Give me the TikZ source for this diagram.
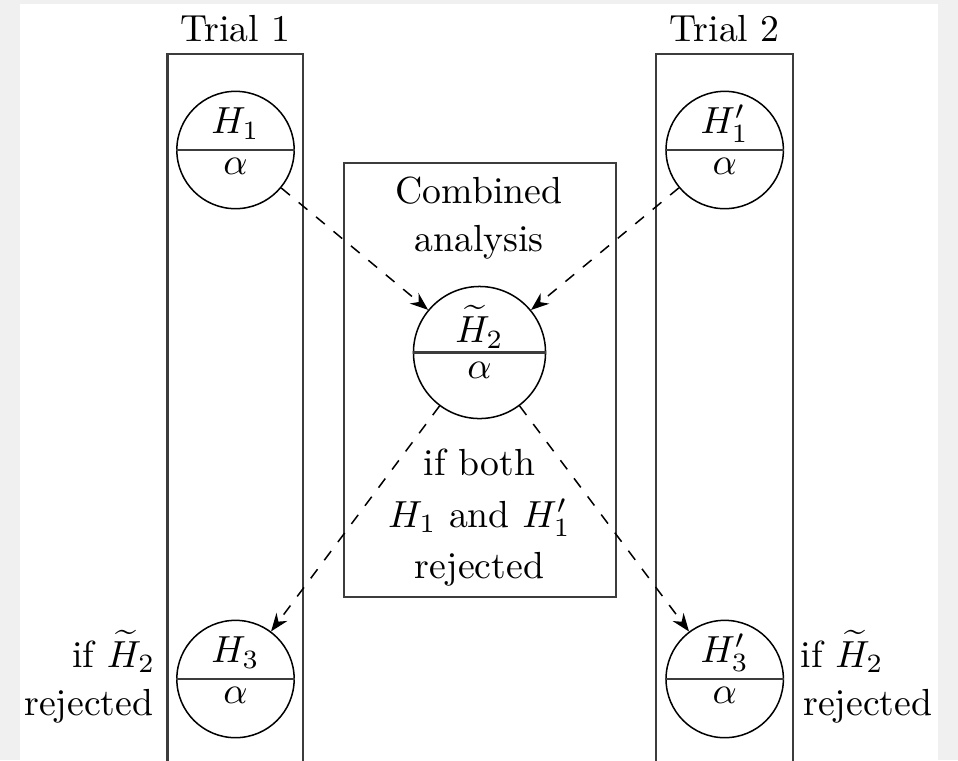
\documentclass[tikz,border=0pt]{standalone}
\usetikzlibrary{arrows.meta}
\definecolor{bggray}{RGB}{240,240,240}
\definecolor{framegray}{RGB}{60,60,60}
\begin{document}
\begin{tikzpicture}[x=0.265pt,y=-0.265pt,
  hyp/.style={circle,draw,minimum size=31.1pt,inner sep=0pt},
  bighyp/.style={hyp,minimum size=35pt},
  divider/.style={draw=framegray,line width=0.6pt},
  lbl/.style={anchor=base,inner sep=0pt},
  frame/.style={draw=framegray,line width=0.6pt},
  link/.style={dashed,-{Stealth}}]
\useasboundingbox (0,0) rectangle (958,760);
\fill[bggray] (0,0) rectangle (958,760);
\fill[white] (19.5,4) rectangle (938,760);
% frames
\draw[frame] (167.5,770) -- (167.5,54) -- (303.3,54) -- (303.3,770);
\draw[frame] (656,770) -- (656,54) -- (792.7,54) -- (792.7,770);
\draw[frame] (344,163.3) rectangle (616,597);
% titles
\node[lbl] (t1) at (235.3,41) {Trial 1};
\node[lbl] (t2) at (724.7,41) {Trial 2};
\node[lbl] (c1) at (479,203.5) {Combined};
\node[lbl] (c2) at (479,251.7) {analysis};
\node[lbl] (m1) at (479.5,475) {if both};
\node[lbl] (m2) at (479.5,527) {$H_1$ and $H_1'$};
\node[lbl] (m3) at (479.5,578.5) {rejected};
\node[lbl,anchor=base east] (l1) at (156,667) {if $\widetilde{H}_2$};
\node[lbl,anchor=base east] (l2) at (154,715) {rejected};
\node[lbl,anchor=base west] (r1) at (800,667) {if $\widetilde{H}_2$};
\node[lbl,anchor=base west] (r2) at (802.5,715) {rejected};
% hypotheses
\node[hyp] (h1) at (235.5,150) {};
\draw[divider] (h1.west) -- (h1.east);
\node[lbl] (h1t) at (235.5,133.5) {$H_1$};
\node[lbl] (h1b) at (235.5,174) {$\alpha$};
\node[hyp] (h1p) at (724.7,150) {};
\draw[divider] (h1p.west) -- (h1p.east);
\node[lbl] (h1pt) at (724.7,133.5) {$H_1'$};
\node[lbl] (h1pb) at (724.7,174) {$\alpha$};
\node[bighyp] (h2) at (479.5,352.5) {};
\draw[divider] (h2.west) -- (h2.east);
\node[lbl] (h2t) at (479.5,342.5) {$\widetilde{H}_2$};
\node[lbl] (h2b) at (479.5,378) {$\alpha$};
\node[hyp] (h3) at (235.5,679) {};
\draw[divider] (h3.west) -- (h3.east);
\node[lbl] (h3t) at (235.5,662.5) {$H_3$};
\node[lbl] (h3b) at (235.5,703.5) {$\alpha$};
\node[hyp] (h3p) at (724.7,679) {};
\draw[divider] (h3p.west) -- (h3p.east);
\node[lbl] (h3pt) at (724.7,662.5) {$H_3'$};
\node[lbl] (h3pb) at (724.7,703.5) {$\alpha$};
% links
\draw[link] (h1) -- (h2);
\draw[link] (h1p) -- (h2);
\draw[link] (h2) -- (h3);
\draw[link] (h2) -- (h3p);
\end{tikzpicture}
\end{document}
